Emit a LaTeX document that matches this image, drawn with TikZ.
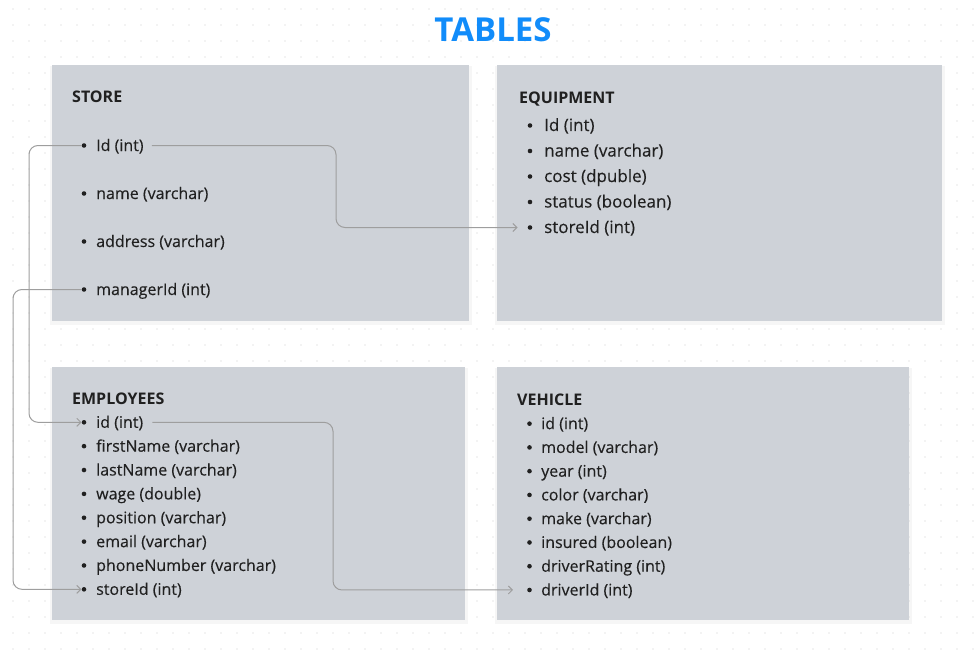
\documentclass[tikz,border=0pt]{standalone}
\usepackage{fontspec}
\setmainfont{Open Sans}
\newfontfamily\fieldfont{Open Sans}[FakeBold=0.25]
\usetikzlibrary{arrows.meta,shadows}

\definecolor{boxgray}{RGB}{206,210,216}
\definecolor{ink}{RGB}{32,32,32}
\definecolor{wiregray}{RGB}{158,158,158}
\definecolor{titleblue}{RGB}{17,140,250}
\definecolor{gridgray}{RGB}{205,205,205}

\tikzset{
  tablebox/.style={fill=boxgray, anchor=north west, inner sep=0pt,
    drop shadow={shadow xshift=0pt, shadow yshift=-2pt, shadow scale=1.012, opacity=.07}},
  tablehead/.style={anchor=base west, inner sep=0pt, text=ink, font=\bfseries\fontsize{16}{19}\selectfont},
  field/.style={anchor=base west, inner sep=0pt, text=ink, font=\fieldfont\fontsize{#1}{19}\selectfont},
  field/.default=16,
  bullet/.style={circle, fill=ink, inner sep=0pt, minimum size=4.6pt},
  wire/.style={draw=wiregray, line width=1pt, rounded corners=9pt, -{Straight Barb[length=4pt,width=8pt]}},
}

\begin{document}
\begin{tikzpicture}[x=1pt,y=-1pt]
  \path[use as bounding box] (0,0) rectangle (976,658);
  % dotted canvas
  \foreach \i in {0,...,60}
    \foreach \j in {0,...,40}
      \fill[gridgray] (13+16*\i,9+16*\j) circle (0.7pt);
  \node[font=\bfseries\fontsize{33}{40}\selectfont, text=titleblue] (title) at (493,29.5) {TABLES};

  % tables
  \node[tablebox, minimum width=417pt, minimum height=256pt] (store) at (52,65) {};
  \node[tablebox, minimum width=445pt, minimum height=256pt] (equipment) at (497,65) {};
  \node[tablebox, minimum width=413pt, minimum height=253pt] (employees) at (52,367) {};
  \node[tablebox, minimum width=412pt, minimum height=253pt] (vehicle) at (497,367) {};

  \node[tablehead] (store-h) at (72,102.7) {STORE};
  \node[tablehead] (equipment-h) at (519,104) {EQUIPMENT};
  \node[tablehead] (employees-h) at (72,404.5) {EMPLOYEES};
  \node[tablehead] (vehicle-h) at (517,405) {VEHICLE};

  \foreach \fld [count=\i] in {Id (int), name (varchar), address (varchar), managerId (int)} {
    \node[bullet] (store-b\i) at (84,97.5+48*\i) {};
    \node[field] (store-f\i) at (96,103+48*\i) {\fld};
  }
  \foreach \fld [count=\i] in {Id (int), name (varchar), cost (dpuble), status (boolean), storeId (int)} {
    \node[bullet] (equipment-b\i) at (530,100+25.5*\i) {};
    \node[field=17] (equipment-f\i) at (544,105.5+25.5*\i) {\fld};
  }
  \foreach \fld [count=\i] in {id (int), firstName (varchar), lastName (varchar), wage (double),
      position (varchar), email (varchar), phoneNumber (varchar), storeId (int)} {
    \node[bullet] (employees-b\i) at (84,398.45+23.86*\i) {};
    \node[field] (employees-f\i) at (96,403.95+23.86*\i) {\fld};
  }
  \foreach \fld [count=\i] in {id (int), model (varchar), year (int), color (varchar),
      make (varchar), insured (boolean), driverRating (int), driverId (int)} {
    \node[bullet] (vehicle-b\i) at (529.5,399.9+23.76*\i) {};
    \node[field] (vehicle-f\i) at (541,405.4+23.76*\i) {\fld};
  }

  % links
  \coordinate (lane-a) at (29,0);
  \coordinate (lane-b) at (13,0);
  \coordinate (lane-c) at (336,0);
  \coordinate (lane-d) at (333,0);
  \draw[wire, shorten <=8pt, shorten >=10pt] (store-b1 -| store-f1.east) -- (store-b1 -| lane-c) |- (equipment-b5.west);
  \draw[wire] (store-b1.west) -- (store-b1 -| lane-a) |- (employees-b1.west);
  \draw[wire] (store-b4.west) -- (store-b4 -| lane-b) |- (employees-b8.west);
  \draw[wire, shorten <=9pt, shorten >=14pt] (employees-b1 -| employees-f1.east) -- (employees-b1 -| lane-d) |- (vehicle-b8.west);
\end{tikzpicture}
\end{document}
